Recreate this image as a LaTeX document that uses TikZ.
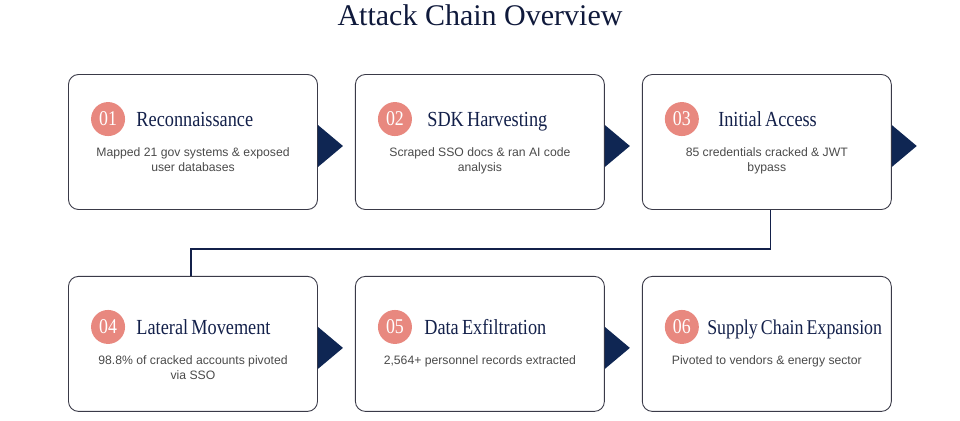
\documentclass[tikz,border=0pt]{standalone}
\usepackage{fontspec}
\setmainfont{Liberation Serif}
\setsansfont{Liberation Sans}
\newfontfamily\headfont[FakeStretch=0.85,WordSpace=0.7]{Liberation Serif}
\usetikzlibrary{calc,positioning}
\definecolor{navy}{HTML}{13204A}
\definecolor{tipnavy}{HTML}{0F2653}
\definecolor{salmon}{HTML}{E8887F}
\definecolor{boxline}{HTML}{3A3A48}
\definecolor{descgray}{HTML}{4A4A4A}
\tikzset{
    stage node/.style={draw=boxline,line width=0.9pt,rounded corners=10pt,minimum width=249pt,minimum height=135pt},
    num node/.style={circle,fill=salmon,minimum size=34pt,inner sep=0pt,text=white,font=\headfont\fontsize{21}{21}\selectfont},
    head node/.style={inner sep=0pt,text height=15pt,text depth=0pt,text=navy,font=\headfont\fontsize{21.5}{21.5}\selectfont},
    desc node/.style={inner sep=0pt,anchor=north,align=center,text=descgray,font=\sffamily\fontsize{12.2}{15}\selectfont},
    link/.style={draw=navy,line width=1.1pt}
}

\begin{document}
\begin{tikzpicture}[x=1pt,y=1pt,node distance=37pt]
    \useasboundingbox (0,0) rectangle (960,-420);

    \node[anchor=base,text=navy!80!black,font=\fontsize{30}{30}\selectfont] (title) at (480,-26) {Attack Chain Overview};

    % boxes
    \node[stage node] (1) at (193,-142) {};
    \node[stage node] (2) [right =of 1] {};
    \node[stage node] (3) [right =of 2] {};
    \node[stage node] (4) [below =66pt of 1] {};
    \node[stage node] (5) [right =of 4] {};
    \node[stage node] (6) [right =of 5] {};

    % numbers
    \node[num node] (n1) at ($(1.north west)+(40,-45)$) {01};
    \node[num node] (n2) at ($(2.north west)+(40,-45)$) {02};
    \node[num node] (n3) at ($(3.north west)+(40,-45)$) {03};
    \node[num node] (n4) at ($(4.north west)+(40,-51)$) {04};
    \node[num node] (n5) at ($(5.north west)+(40,-51)$) {05};
    \node[num node] (n6) at ($(6.north west)+(40,-51)$) {06};

    % headings
    \node[head node] (t1) [right =11pt of n1] {Reconnaissance};
    \node[head node] (t2) [right =15pt of n2] {SDK Harvesting};
    \node[head node] (t3) [right =19pt of n3] {Initial Access};
    \node[head node] (t4) [right =11pt of n4] {Lateral Movement};
    \node[head node] (t5) [right =12pt of n5] {Data Exfiltration};
    \node[head node,font=\headfont\fontsize{21}{21}\selectfont] (t6) [right =8pt of n6] {Supply Chain Expansion};

    % descriptions
    \node[desc node] (d1) at ($(1.center |- n1.south)+(0,-11)$) {Mapped 21 gov systems \& exposed\\user databases};
    \node[desc node] (d2) at ($(2.center |- n2.south)+(0,-11)$) {Scraped SSO docs \& ran AI code\\analysis};
    \node[desc node] (d3) at ($(3.center |- n3.south)+(0,-11)$) {85 credentials cracked \& JWT\\bypass};
    \node[desc node] (d4) at ($(4.center |- n4.south)+(0,-11)$) {98.8\% of cracked accounts pivoted\\via SSO};
    \node[desc node] (d5) at ($(5.center |- n5.south)+(0,-11)$) {2,564+ personnel records extracted};
    \node[desc node] (d6) at ($(6.center |- n6.south)+(0,-11)$) {Pivoted to vendors \& energy sector};

    % arrow heads between stages
    \foreach \b in {1,2,3,4,5}
        \fill[tipnavy] ($(\b.east)+(0,17)$) -- ($(\b.east)+(25,-4)$) -- ($(\b.east)+(0,-25)$) -- cycle;

    % row change
    \draw[link] ([xshift=4pt]3.south) -- ++(0,-39) -| ([xshift=-2pt]4.north);
\end{tikzpicture}
\end{document}
